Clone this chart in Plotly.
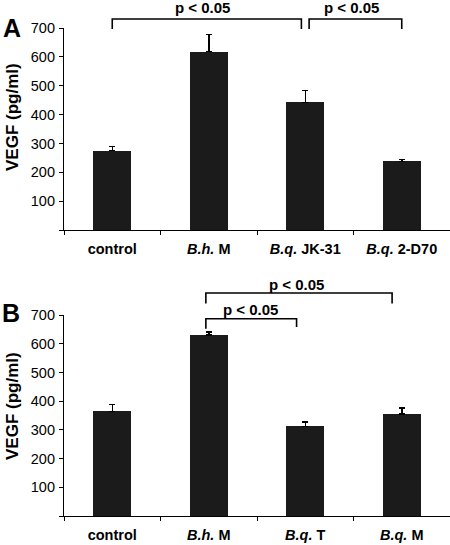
import plotly.graph_objects as go

# ---- data ----
cats_a = ["control", "<i>B.h.</i> M", "<i>B.q.</i> JK-31", "<i>B.q.</i> 2-D70"]
vals_a = [275, 618, 442, 238]
err_a = [14, 60, 41, 7]

cats_b = ["control", "<i>B.h.</i> M", "<i>B.q.</i> T", "<i>B.q.</i> M"]
vals_b = [365, 632, 313, 356]
err_b = [23, 10, 15, 21]

y_ticks = [0, 100, 200, 300, 400, 500, 600, 700]
y_ticktext = ["", "100", "200", "300", "400", "500", "600", "700"]
y_title = "VEGF (pg/ml)"
p_label = "p &lt; 0.05"

FONT = "Liberation Sans, Arial, sans-serif"
BAR = "#1b1b1b"
W, H = 450, 545


def py(pix):
    return (H - pix) / H


fig = go.Figure()
fig.add_trace(go.Bar(x=cats_a, y=vals_a, width=0.39, marker=dict(color=BAR, line=dict(width=0)),
                     error_y=dict(type="data", array=err_a, arrayminus=[0] * 4, symmetric=False,
                                  color="black", thickness=1.5, width=3),
                     xaxis="x", yaxis="y", showlegend=False))
fig.add_trace(go.Bar(x=cats_b, y=vals_b, width=0.39, marker=dict(color=BAR, line=dict(width=0)),
                     error_y=dict(type="data", array=err_b, arrayminus=[0] * 4, symmetric=False,
                                  color="black", thickness=1.5, width=3),
                     xaxis="x2", yaxis="y2", showlegend=False))

xdom = [64 / W, 1.0]
xcommon = dict(type="category", range=[-0.5, 3.5], showline=True, linecolor="black", linewidth=1.2,
               ticks="outside", ticklen=4, tickcolor="black", tickson="boundaries",
               tickfont=dict(family=FONT, size=14.5, color="black", weight="bold"),
               showgrid=False, zeroline=False, ticklabelstandoff=5, automargin=False,
               domain=xdom)
ycommon = dict(range=[0, 700], tickvals=y_ticks, ticktext=y_ticktext, showline=True,
               linecolor="black", linewidth=1.2, ticks="outside", ticklen=4, tickcolor="black",
               tickfont=dict(family=FONT, size=14.5, color="black"), showgrid=False,
               zeroline=False, automargin=False, ticklabelstandoff=1)

fig.update_layout(
    width=W, height=H, margin=dict(l=0, r=0, t=0, b=0),
    paper_bgcolor="white", plot_bgcolor="white", bargap=0,
    xaxis=dict(xcommon, anchor="y"),
    yaxis=dict(ycommon, domain=[py(230), py(28)], anchor="x"),
    xaxis2=dict(xcommon, anchor="y2"),
    yaxis2=dict(ycommon, domain=[py(516), py(315.3)], anchor="x2"),
)

# brackets (category units, paper heights)
line = dict(color="black", width=1.6)
brackets = [
    ("x", 0.0, 1.96, py(19), py(29), py(29)),
    ("x", 2.04, 3.0, py(19), py(29), py(29)),
    ("x2", 0.97, 2.9, py(293), py(303.5), py(303.5)),
    ("x2", 0.97, 1.91, py(318.7), py(328.7), py(327)),
]
for xr, x0, x1, ytop, yl, yr in brackets:
    fig.add_shape(type="path", xref=xr, yref="paper",
                  path=f"M {x0},{yl} L {x0},{ytop} L {x1},{ytop} L {x1},{yr}", line=line)

ann_font = dict(family=FONT, size=15, color="black", weight="bold")
p_pos = [("x", 0.93, py(7.5)), ("x", 2.48, py(7.5)), ("x2", 1.91, py(284)), ("x2", 1.43, py(309))]
for xr, x, y in p_pos:
    fig.add_annotation(text=p_label, xref=xr, yref="paper", x=x, y=y, showarrow=False,
                       xanchor="center", yanchor="middle", font=ann_font)

# panel letters
fig.add_annotation(text="A", xref="paper", yref="paper", x=11.5 / W, y=py(28), showarrow=False,
                   xanchor="center", yanchor="middle",
                   font=dict(family=FONT, size=25, color="black", weight="bold"))
fig.add_annotation(text="B", xref="paper", yref="paper", x=10.5 / W, y=py(313), showarrow=False,
                   xanchor="center", yanchor="middle",
                   font=dict(family=FONT, size=25, color="black", weight="bold"))

# y titles
for yc in (117, 406):
    fig.add_annotation(text=y_title, xref="paper", yref="paper", x=13 / W, y=py(yc), showarrow=False,
                       textangle=-90, xanchor="center", yanchor="middle",
                       font=dict(family=FONT, size=17, color="black", weight="bold"))

fig.write_html("out.html", config={"displayModeBar": False},
               post_script="document.body.style.margin='0';document.body.style.padding='0';"
                           "document.body.style.overflow='hidden';")
